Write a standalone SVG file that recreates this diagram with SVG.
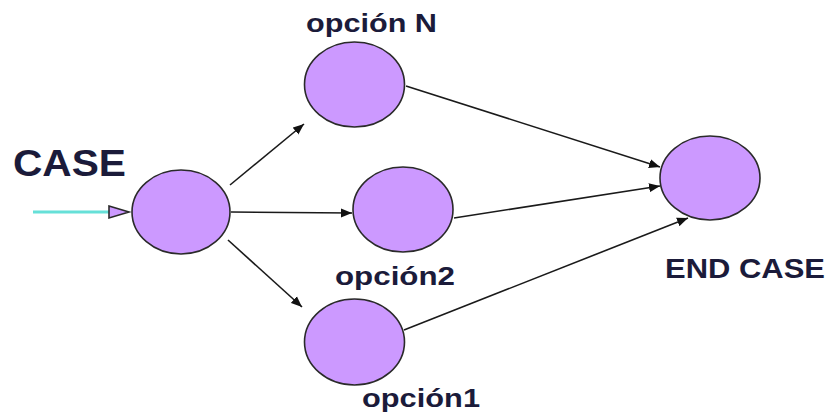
<svg xmlns="http://www.w3.org/2000/svg" width="828" height="416" viewBox="0 0 828 416">
  <style>
    .node { fill: #CC99FF; stroke: #2a2a2a; stroke-width: 1.6; }
    .label { font-family: "Liberation Sans", Arial, sans-serif; font-weight: bold; fill: #1b1b3a; }
    .edge { stroke: #1a1a1a; stroke-width: 1.6; fill: none; marker-end: url(#arrow); }
  </style>
  <defs>
    <marker id="arrow" markerUnits="userSpaceOnUse" markerWidth="12" markerHeight="10" refX="11" refY="5" orient="auto">
      <path d="M0,0.5 L11,5 L0,9.5 Z" fill="#111"/>
    </marker>
  </defs>

  <rect width="828" height="416" fill="#ffffff"/>

  <!-- connectors -->
  <g id="connectors">
    <line x1="33" y1="212" x2="110" y2="212" stroke="#66E0D8" stroke-width="3"/>
    <path d="M109,206 L129,212 L109,218 Z" fill="#CC99FF" stroke="#2a2a2a" stroke-width="1.6"/>
    <line class="edge" x1="230" y1="185" x2="304" y2="124"/>
    <line class="edge" x1="231" y1="212" x2="352" y2="213"/>
    <line class="edge" x1="228" y1="240" x2="302" y2="307"/>
    <line class="edge" x1="406" y1="86" x2="660" y2="167"/>
    <line class="edge" x1="454" y1="218" x2="660" y2="186"/>
    <line class="edge" x1="404" y1="330" x2="688" y2="218"/>
  </g>

  <!-- nodes -->
  <g id="case">
    <ellipse class="node" cx="181" cy="212" rx="49" ry="42"/>
    <text class="label" x="13" y="176" font-size="36" textLength="113" lengthAdjust="spacingAndGlyphs">CASE</text>
  </g>
  <g id="opcionN">
    <ellipse class="node" cx="354.5" cy="84.5" rx="50" ry="42.5"/>
    <text class="label" x="306" y="32" font-size="26" textLength="131" lengthAdjust="spacingAndGlyphs">opción N</text>
  </g>
  <g id="opcion2">
    <ellipse class="node" cx="403" cy="209.5" rx="50" ry="42.5"/>
    <text class="label" x="335" y="285" font-size="26" textLength="120" lengthAdjust="spacingAndGlyphs">opción2</text>
  </g>
  <g id="opcion1">
    <ellipse class="node" cx="354.5" cy="342" rx="50" ry="43"/>
    <text class="label" x="362" y="407" font-size="26" textLength="118" lengthAdjust="spacingAndGlyphs">opción1</text>
  </g>
  <g id="endcase">
    <ellipse class="node" cx="710" cy="178" rx="50" ry="42"/>
    <text class="label" x="665" y="278" font-size="27" textLength="160" lengthAdjust="spacingAndGlyphs">END CASE</text>
  </g>
</svg>
